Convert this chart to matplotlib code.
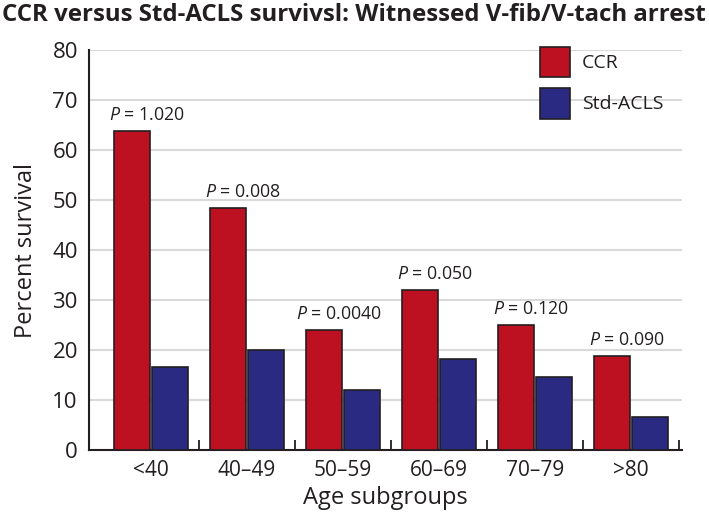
import matplotlib
matplotlib.use("Agg")
import matplotlib.pyplot as plt
import numpy as np

categories = ["<40", "40\u201349", "50\u201359", "60\u201369", "70\u201379", ">80"]
ccr = [63.9, 48.5, 24.0, 32.0, 25.0, 18.9]
std_acls = [16.7, 20.1, 12.0, 18.2, 14.7, 6.6]
p_labels = ["1.020", "0.008", "0.0040", "0.050", "0.120", "0.090"]
yticks = [0, 10, 20, 30, 40, 50, 60, 70, 80]

FONT = "Open Sans"
plt.rcParams["font.family"] = [FONT, "DejaVu Sans"]
plt.rcParams["mathtext.fontset"] = "custom"
plt.rcParams["mathtext.it"] = FONT + ":italic"
plt.rcParams["mathtext.rm"] = FONT

red = "#BD1020"
blue = "#2A2A82"
edge = "#231F20"

fig = plt.figure(figsize=(7.09, 5.18), dpi=100)
ax = fig.add_axes([89/709, 68/518, 593/709, 400/518])

x = np.arange(len(categories))
w = 0.37
off = 0.2
ax.bar(x - off, ccr, w, color=red, edgecolor=edge, linewidth=1.2, label="CCR", zorder=3)
ax.bar(x + off, std_acls, w, color=blue, edgecolor=edge, linewidth=1.2, label="Std-ACLS", zorder=3)

for xi, v, p in zip(x, ccr, p_labels):
    ax.annotate(r"$\it{P}$ = " + p, (xi - 0.04, v), xytext=(0, 5), textcoords="offset points",
                ha="center", va="bottom", fontsize=12.8, color="#231F20")

ax.set_xlim(-0.646, 5.531)
ax.set_ylim(0, 80)
ax.set_yticks(yticks)
ax.set_yticklabels([str(t) for t in yticks], fontsize=16, color="#231F20")
for t in yticks[1:]:
    ax.axhline(t, color="#D9D9D9", linewidth=1.5, zorder=1)

ax.set_xticks(x)
ax.set_xticklabels(categories, fontsize=15, color="#231F20")
ax.tick_params(axis="x", which="major", length=0, pad=7)
ax.tick_params(axis="y", length=0, pad=8)
ax.set_xticks(np.arange(0.5, len(categories), 1.0), minor=True)
ax.tick_params(axis="x", which="minor", direction="in", length=7, width=1.3, color="#231F20")

for s in ["top", "right"]:
    ax.spines[s].set_visible(False)
for s in ["left", "bottom"]:
    ax.spines[s].set_color("#231F20")
    ax.spines[s].set_linewidth(1.5)

ax.set_xlabel("Age subgroups", fontsize=17, color="#231F20", labelpad=4)
ax.set_ylabel("Percent survival", fontsize=17, color="#231F20", labelpad=10)

leg = ax.legend(loc="upper left", bbox_to_anchor=(0.7605, 1.0085), frameon=False,
                fontsize=14, handlelength=1.55, handleheight=2.05, handletextpad=0.62,
                labelspacing=0.55, borderpad=0, borderaxespad=0)
for t in leg.get_texts():
    t.set_color("#231F20")

fig.text(0.003, 0.972, "CCR versus Std-ACLS survivsl: Witnessed V-fib/V-tach arrest",
         fontsize=17.3, fontweight="bold", ha="left", va="center", color="#231F20")

fig.savefig("out.png", dpi=100)
